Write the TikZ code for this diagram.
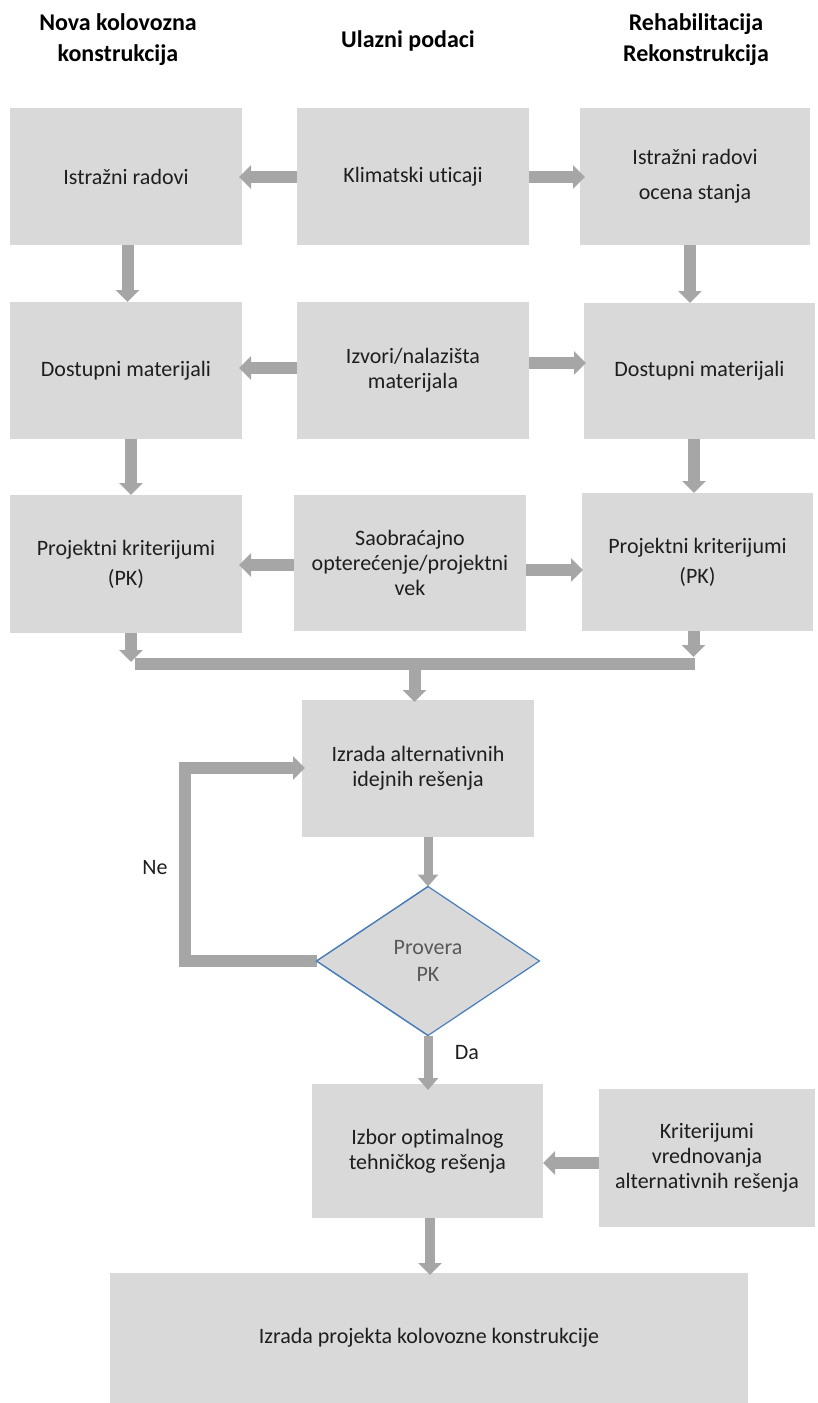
\documentclass[tikz,border=0pt]{standalone}
\usepackage{fontspec}
\setmainfont{Carlito}[Ligatures={NoCommon}]
\usetikzlibrary{arrows.meta,shapes.geometric}
\definecolor{boxgray}{HTML}{D9D9D9}
\definecolor{arrgray}{HTML}{A6A6A6}
\definecolor{dblue}{HTML}{4A7EBB}
\definecolor{txt}{HTML}{1E1E1E}
\definecolor{dtxt}{HTML}{595959}
\begin{document}
\begin{tikzpicture}[x=1pt,y=-1pt,
  box/.style={fill=boxgray, draw=none, inner sep=0pt, outer sep=0pt, align=center,
    font=\fontsize{22}{25}\selectfont, text=txt},
  head/.style={align=center, inner sep=0pt, font=\fontsize{24}{31}\selectfont\bfseries, text=black},
  lbl/.style={inner sep=0pt, font=\fontsize{22}{25}\selectfont, text=txt},
  flow/.style={draw=arrgray, line width=12pt, -{Triangle[width=23pt,length=12pt]}},
  flowthin/.style={draw=arrgray, line width=9pt, -{Triangle[width=20pt,length=12pt]}},
  flowmid/.style={draw=arrgray, line width=10pt, -{Triangle[width=23pt,length=12pt]}},
  decision/.style={diamond, fill=boxgray, draw=dblue, line width=1.2pt, inner sep=0pt, outer sep=0pt,
    align=center, font=\fontsize{22}{27}\selectfont, text=dtxt}]
\useasboundingbox (0,0) rectangle (817,1403);

% headers
\node[head] (h1) at (118,40) {Nova kolovozna\\konstrukcija};
\node[head] (h2) at (408,41) {Ulazni podaci};
\node[head] (h3) at (696,40) {Rehabilitacija\\Rekonstrukcija};

% row 1
\node[box, minimum width=232pt, minimum height=137pt] (a1) at (126,176.5) {Istražni radovi};
\node[box, minimum width=232pt, minimum height=137pt] (a2) at (413,176.5) {Klimatski uticaji};
\node[box, minimum width=230pt, minimum height=137pt] (a3) at (695,176.5) {Istražni radovi\\[10pt]ocena stanja};
% row 2
\node[box, minimum width=232pt, minimum height=137pt] (b1) at (126,370.5) {Dostupni materijali};
\node[box, minimum width=232pt, minimum height=137pt] (b2) at (413,370.5) {Izvori/nalazišta\\materijala};
\node[box, minimum width=231pt, minimum height=136pt] (b3) at (699.5,371) {Dostupni materijali};
% row 3
\node[box, minimum width=232pt, minimum height=138pt] (c1) at (126,564) {Projektni kriterijumi\\[5pt](PK)};
\node[box, minimum width=232pt, minimum height=136pt] (c2) at (410,563) {Saobraćajno\\opterećenje/projektni\\vek};
\node[box, minimum width=231pt, minimum height=138pt] (c3) at (697.5,562) {Projektni kriterijumi\\[5pt](PK)};
% middle
\node[box, minimum width=232pt, minimum height=137pt] (d) at (418,768.5) {Izrada alternativnih\\idejnih rešenja};
\node[decision, minimum width=223pt, minimum height=149pt] (dia) at (428,961) {Provera\\PK};
\node[box, minimum width=231pt, minimum height=134pt] (e) at (427.5,1151) {Izbor optimalnog\\tehničkog rešenja};
\node[box, minimum width=216pt, minimum height=138pt] (f) at (707,1158) {Kriterijumi\\vrednovanja\\alternativnih rešenja};
\node[box, minimum width=638pt, minimum height=130pt] (g) at (429,1338) {Izrada projekta kolovozne konstrukcije};

% labels
\node[lbl] (ne) at (155,868) {Ne};
\node[lbl] (da) at (467,1053) {Da};

% row 1 arrows
\draw[flow, shorten >=-3pt] (a2.west |- 0,177) -- (a1.east |- 0,177);
\draw[flow, shorten >=-5pt] (a2.east |- 0,177) -- (a3.west |- 0,177);
\draw[flow] (a1.south -| 127.5,0) -- (b1.north -| 127.5,0);
\draw[flow] (a3.south -| 690,0) -- (b3.north -| 690,0);
% row 2 arrows
\draw[flow, shorten >=-3pt] (b2.west |- 0,368) -- (b1.east |- 0,368);
\draw[flow, shorten >=-2pt] (b2.east |- 0,363) -- (b3.west |- 0,363);
\draw[flow] (b1.south -| 131,0) -- (c1.north -| 131,0);
\draw[flow] (b3.south -| 694,0) -- (c3.north -| 694,0);
% row 3 arrows
\draw[flow, shorten >=-3pt] (c2.west |- 0,565) -- (c1.east |- 0,565);
\draw[flow, shorten >=-1pt] (c2.east |- 0,570) -- (c3.west |- 0,570);

% merge
\coordinate (jl) at (131,664);
\coordinate (jr) at (693.5,664);
\coordinate (jc) at (414.5,664);
\coordinate (jbl) at (135,664);
\coordinate (jbr) at (695,664);
\draw[flow, shorten >=2pt] (c1.south -| jl) -- (jl);
\draw[flow, shorten >=7pt] (c3.south -| jr) -- (jr);
\draw[draw=arrgray, line width=12pt] (jbl) -- (jbr);
\draw[flow, shorten >=-2pt] (jc) -- (d.north -| jc);

% decision
\draw[flowthin] (d.south -| dia.north) -- (dia.north);
\coordinate (lb) at (185,961);
\coordinate (lt) at (185,768);
\draw[flow, shorten >=-3pt] (dia.west) -- (lb) -- (lt) -- (d.west |- lt);
\draw[dblue, line width=1.2pt] (dia.north) -- (dia.west) -- (dia.south);
\draw[flowthin, shorten >=-6pt] (dia.south) -- (e.north -| dia.south);

% bottom
\draw[flow] (f.west |- 0,1163) -- (e.east |- 0,1163);
\draw[flowmid, shorten >=-2pt] (e.south -| 430,0) -- (g.north -| 430,0);
\end{tikzpicture}
\end{document}
